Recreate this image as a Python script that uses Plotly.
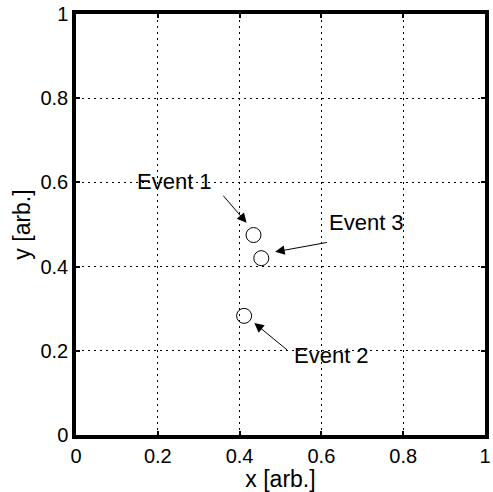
import plotly.graph_objects as go

event_names = ["Event 1", "Event 2", "Event 3"]
event_x = [0.434, 0.411, 0.453]
event_y = [0.475, 0.283, 0.420]

tick_vals = [0, 0.2, 0.4, 0.6, 0.8, 1]
tick_text = ["0", "0.2", "0.4", "0.6", "0.8", "1"]

# label layout: (text x, text y, arrow tail x, tail y, head x, head y)
label_pos = {
    "Event 1": (0.240, 0.603, 0.357, 0.572, 0.417, 0.504),
    "Event 2": (0.625, 0.190, 0.520, 0.199, 0.436, 0.266),
    "Event 3": (0.710, 0.504, 0.617, 0.458, 0.487, 0.435),
}

FONT = "Liberation Sans, Arial, sans-serif"

fig = go.Figure()
fig.add_trace(go.Scatter(
    x=event_x, y=event_y, mode="markers",
    marker=dict(symbol="circle-open", size=15, color="black", line=dict(width=1)),
    showlegend=False, hoverinfo="skip", cliponaxis=False,
))

annotations = []
for name in event_names:
    tx, ty, ax_, ay_, hx, hy = label_pos[name]
    annotations.append(dict(x=tx, y=ty, xref="x", yref="y", text=name, showarrow=False,
                            font=dict(family=FONT, size=22, color="black")))
    annotations.append(dict(x=hx, y=hy, xref="x", yref="y", ax=ax_, ay=ay_, axref="x", ayref="y",
                            text="", showarrow=True, arrowhead=2, arrowsize=1.9, arrowwidth=1,
                            arrowcolor="black", standoff=0, startstandoff=0))

axis_common = dict(
    range=[0, 1], tickvals=tick_vals, ticktext=tick_text,
    showgrid=True, gridcolor="black", griddash="2px,4px", gridwidth=1,
    showline=True, linecolor="black", linewidth=3.5, mirror="ticks",
    ticks="inside", ticklen=4, tickwidth=2, tickcolor="black",
    zeroline=False, tickfont=dict(family=FONT, size=20, color="black"),
    ticklabeloverflow="allow", fixedrange=True,
)

fig.update_layout(
    width=493, height=492,
    margin=dict(l=76, r=2, t=14, b=57),
    paper_bgcolor="white", plot_bgcolor="white",
    xaxis=dict(**axis_common, title=dict(text="x [arb.]", font=dict(family=FONT, size=23, color="black"), standoff=0)),
    yaxis=dict(**axis_common, title=dict(text="y [arb.]", font=dict(family=FONT, size=23, color="black"), standoff=4)),
    annotations=annotations,
    font=dict(family=FONT, color="black"),
)

fig.write_html("out.html")
